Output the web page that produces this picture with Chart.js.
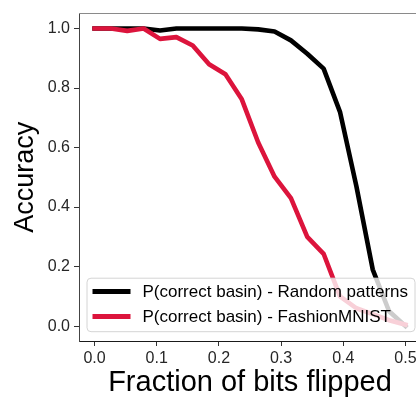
<!DOCTYPE html>
<html>
<head>
<meta charset="utf-8">
<script src="https://cdn.jsdelivr.net/npm/chart.js@4.4.1/dist/chart.umd.min.js"></script>
<style>
  html, body { margin: 0; padding: 0; background: #fff; overflow: hidden; }
  #wrap { width: 416px; height: 398px; overflow: hidden; }
  canvas { display: block; }
</style>
</head>
<body>
<div id="wrap"><canvas id="c" width="421" height="398" style="width:421px;height:398px"></canvas></div>
<script>
// ---- data ----
const fractions = [0, 0.0263, 0.0526, 0.0789, 0.1053, 0.1316, 0.1579, 0.1842, 0.2105, 0.2368,
                   0.2632, 0.2895, 0.3158, 0.3421, 0.3684, 0.3947, 0.4211, 0.4474, 0.4737, 0.5];
const randomAcc  = [1.0, 1.0, 1.0, 1.0, 0.993, 1.0, 1.0, 1.0, 1.0, 1.0,
                    0.997, 0.99, 0.96, 0.915, 0.865, 0.72, 0.47, 0.19, 0.05, 0.0];
const fashionAcc = [1.0, 1.0, 0.992, 1.0, 0.965, 0.971, 0.943, 0.88, 0.846, 0.762,
                    0.617, 0.502, 0.43, 0.30, 0.243, 0.10, 0.06, 0.04, 0.02, 0.005];
const seriesLabels = ['P(correct basin) - Random patterns', 'P(correct basin) - FashionMNIST'];
const seriesColors = ['#000000', '#DC143C'];
const xTicks = [0.0, 0.1, 0.2, 0.3, 0.4, 0.5];
const yTicks = [0.0, 0.2, 0.4, 0.6, 0.8, 1.0];
const xLabel = 'Fraction of bits flipped';
const yLabel = 'Accuracy';

const FONT = "'Liberation Sans', Arial, Helvetica, sans-serif";

const toPts = (arr) => arr.map((v, i) => ({ x: fractions[i], y: v }));

const framePlugin = {
  id: 'frame',
  afterDraw(chart) {
    const ctx = chart.ctx;
    const a = chart.chartArea;
    ctx.save();
    // top spine
    ctx.strokeStyle = '#8a8a8a';
    ctx.lineWidth = 1;
    ctx.beginPath();
    ctx.moveTo(a.left, Math.floor(a.top) + 0.5);
    ctx.lineTo(a.right, Math.floor(a.top) + 0.5);
    ctx.stroke();

    // legend (lower right)
    ctx.font = '17px ' + FONT;
    let tw = 0;
    seriesLabels.forEach(l => { tw = Math.max(tw, ctx.measureText(l).width); });
    const padL = 5.5, handle = 38, gap = 12, padR = 7;
    const w = padL + handle + gap + tw + padR;
    const h = 53.5;
    const right = a.right - 6;
    const bottom = a.bottom - 9.3;
    const left = right - w;
    const top = bottom - h;
    const r = 4;
    ctx.beginPath();
    ctx.moveTo(left + r, top);
    ctx.lineTo(right - r, top);
    ctx.arcTo(right, top, right, top + r, r);
    ctx.lineTo(right, bottom - r);
    ctx.arcTo(right, bottom, right - r, bottom, r);
    ctx.lineTo(left + r, bottom);
    ctx.arcTo(left, bottom, left, bottom - r, r);
    ctx.lineTo(left, top + r);
    ctx.arcTo(left, top, left + r, top, r);
    ctx.closePath();
    ctx.fillStyle = 'rgba(255,255,255,0.8)';
    ctx.fill();
    ctx.strokeStyle = '#d4d4d4';
    ctx.lineWidth = 1;
    ctx.stroke();

    const rows = [top + 13.4, top + 38.4];
    seriesLabels.forEach((l, i) => {
      ctx.strokeStyle = seriesColors[i];
      ctx.lineWidth = 5;
      ctx.lineCap = 'butt';
      ctx.beginPath();
      ctx.moveTo(left + padL, rows[i]);
      ctx.lineTo(left + padL + handle, rows[i]);
      ctx.stroke();
      ctx.fillStyle = '#000';
      ctx.textAlign = 'left';
      ctx.textBaseline = 'middle';
      ctx.fillText(l, left + padL + handle + gap, rows[i] + 1);
    });
    ctx.restore();
  }
};

new Chart(document.getElementById('c'), {
  type: 'line',
  data: {
    datasets: [
      { label: seriesLabels[0], data: toPts(randomAcc), borderColor: seriesColors[0],
        borderWidth: 4.6, pointRadius: 0, tension: 0, order: 1,
        borderJoinStyle: 'round', borderCapStyle: 'square' },
      { label: seriesLabels[1], data: toPts(fashionAcc), borderColor: seriesColors[1],
        borderWidth: 4.6, pointRadius: 0, tension: 0, order: 0,
        borderJoinStyle: 'round', borderCapStyle: 'square' }
    ]
  },
  options: {
    responsive: false,
    animation: false,
    devicePixelRatio: 1,
    layout: { padding: { top: 10, left: 0, right: 0, bottom: 0 } },
    plugins: { legend: { display: false }, tooltip: { enabled: false } },
    scales: {
      x: {
        type: 'linear',
        min: -0.025, max: 0.525,
        afterFit(s) { s.height = 57; },
        afterBuildTicks(s) { s.ticks = xTicks.map(v => ({ value: v })); },
        ticks: {
          includeBounds: false,
          callback: v => v.toFixed(1),
          color: '#262626',
          font: { family: FONT, size: 16 },
          padding: 3,
          maxRotation: 0,
          autoSkip: false
        },
        grid: { drawOnChartArea: false, drawTicks: true, tickLength: 5, color: '#333' },
        border: { display: true, color: '#1a1a1a', width: 1 },
        title: { display: true, text: xLabel, color: '#000',
                 font: { family: FONT, size: 29, lineHeight: 1 },
                 padding: { top: 0, bottom: 1 } }
      },
      y: {
        type: 'linear',
        min: -0.05, max: 1.05,
        afterFit(s) { s.width = 79; },
        afterBuildTicks(s) { s.ticks = yTicks.map(v => ({ value: v })); },
        ticks: {
          includeBounds: false,
          callback: v => v.toFixed(1),
          color: '#262626',
          font: { family: FONT, size: 16 },
          padding: 4,
          autoSkip: false
        },
        grid: { drawOnChartArea: false, drawTicks: true, tickLength: 5, color: '#333' },
        border: { display: true, color: '#444', width: 1 },
        title: { display: true, text: yLabel, color: '#000',
                 font: { family: FONT, size: 27, lineHeight: 1 },
                 padding: { top: 12, bottom: 0 } }
      }
    }
  },
  plugins: [framePlugin]
});
</script>
</body>
</html>
